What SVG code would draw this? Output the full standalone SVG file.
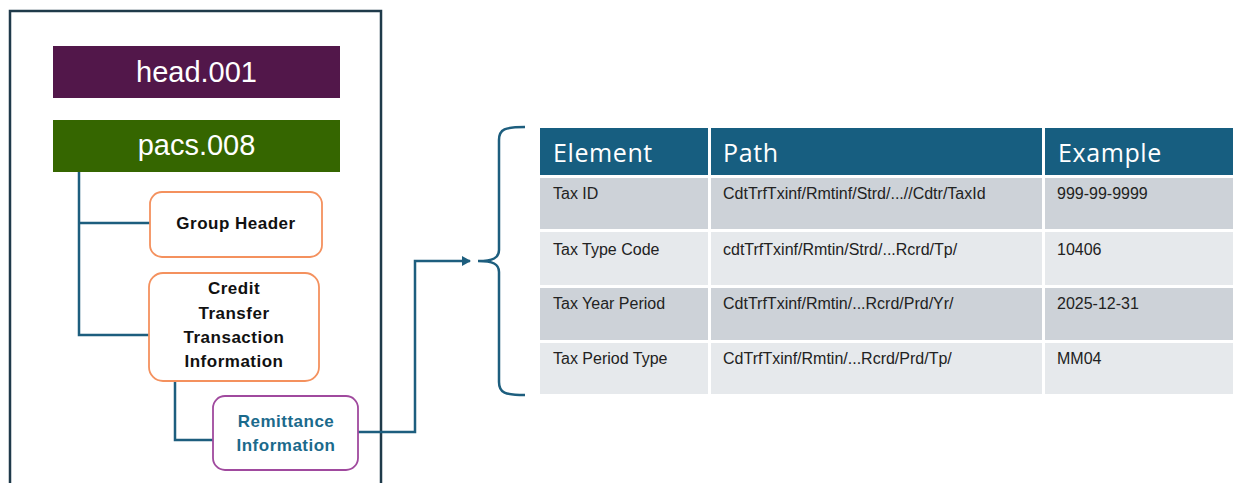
<svg xmlns="http://www.w3.org/2000/svg" width="1233" height="483" viewBox="0 0 1233 483">
<style>
.lbl{font-family:"Liberation Sans",Arial,sans-serif;font-weight:bold;font-size:17px;fill:#111;text-anchor:middle;letter-spacing:0.5px}
.big{font-family:"Liberation Sans",Arial,sans-serif;font-size:29px;fill:#fff;text-anchor:middle}
.hdr{font-family:"Open Sans","Liberation Sans",sans-serif;font-size:25px;fill:#fff;letter-spacing:0.6px}
.cell{font-family:"Liberation Sans",Arial,sans-serif;font-size:16px;fill:#222}
.conn{fill:none;stroke:#1D5E7E;stroke-width:2.5}
.orange{fill:#fff;stroke:#F4915E;stroke-width:1.8}
</style>
<defs>
<marker id="arr" markerWidth="10" markerHeight="10" refX="8" refY="5" orient="auto" markerUnits="userSpaceOnUse">
<path d="M0,0 L9,5 L0,10 Z" fill="#1D5E7E"/>
</marker>
</defs>
<rect width="1233" height="483" fill="#fff"/>
<g id="container">
<rect x="10" y="11" width="371" height="480" fill="none" stroke="#1F3A4A" stroke-width="2.5"/>
</g>
<g id="connectors">
<path class="conn" d="M79,172 V335 H149 M79,223 H150"/>
<path class="conn" d="M175,381 V440 H213"/>
<path class="conn" d="M358,432 H415 V261 H470" marker-end="url(#arr)"/>
<path class="conn" d="M525,127 C505,127 499,129 499,140 V250 C499,258 493,261 478,261 C493,261 499,264 499,272 V382 C499,393 505,395 525,395"/>
</g>
<g id="head001">
<rect x="53" y="46" width="287" height="52" fill="#52174A"/>
<text class="big" x="196.5" y="82">head.001</text>
</g>
<g id="pacs008">
<rect x="53" y="120" width="287" height="52" fill="#356600"/>
<text class="big" x="196.5" y="155">pacs.008</text>
</g>
<g id="groupHeader">
<rect class="orange" x="150" y="192" width="172" height="65" rx="12"/>
<text class="lbl" x="236" y="229">Group Header</text>
</g>
<g id="ctti">
<rect class="orange" x="149" y="273" width="170" height="108" rx="14"/>
<text class="lbl" x="234" y="294">Credit</text>
<text class="lbl" x="234" y="319">Transfer</text>
<text class="lbl" x="234" y="343">Transaction</text>
<text class="lbl" x="234" y="367">Information</text>
</g>
<g id="remittance">
<rect x="213" y="396" width="145" height="74" rx="12" fill="#fff" stroke="#A04A9E" stroke-width="1.8"/>
<text class="lbl" x="286" y="427" style="fill:#1B6A8C">Remittance</text>
<text class="lbl" x="286" y="451" style="fill:#1B6A8C">Information</text>
</g>
<g id="table">
<rect x="540" y="128" width="168" height="47" fill="#175E80"/>
<rect x="711" y="128" width="331" height="47" fill="#175E80"/>
<rect x="1045" y="128" width="188" height="47" fill="#175E80"/>
<text class="hdr" x="553" y="162">Element</text>
<text class="hdr" x="723" y="162">Path</text>
<text class="hdr" x="1058" y="162">Example</text>
<g fill="#CDD2D8">
<rect x="540" y="178" width="168" height="51"/><rect x="711" y="178" width="331" height="51"/><rect x="1045" y="178" width="188" height="51"/>
<rect x="540" y="288" width="168" height="52"/><rect x="711" y="288" width="331" height="52"/><rect x="1045" y="288" width="188" height="52"/>
</g>
<g fill="#E6E9EC">
<rect x="540" y="232" width="168" height="53"/><rect x="711" y="232" width="331" height="53"/><rect x="1045" y="232" width="188" height="53"/>
<rect x="540" y="343" width="168" height="51"/><rect x="711" y="343" width="331" height="51"/><rect x="1045" y="343" width="188" height="51"/>
</g>
<text class="cell" x="553" y="199">Tax ID</text>
<text class="cell" x="723" y="199">CdtTrfTxinf/Rmtinf/Strd/...//Cdtr/TaxId</text>
<text class="cell" x="1057" y="199">999-99-9999</text>
<text class="cell" x="553" y="255">Tax Type Code</text>
<text class="cell" x="723" y="255">cdtTrfTxinf/Rmtin/Strd/...Rcrd/Tp/</text>
<text class="cell" x="1057" y="255">10406</text>
<text class="cell" x="553" y="309">Tax Year Period</text>
<text class="cell" x="723" y="309">CdtTrfTxinf/Rmtin/...Rcrd/Prd/Yr/</text>
<text class="cell" x="1057" y="309">2025-12-31</text>
<text class="cell" x="553" y="364">Tax Period Type</text>
<text class="cell" x="723" y="364">CdTrfTxinf/Rmtin/...Rcrd/Prd/Tp/</text>
<text class="cell" x="1057" y="364">MM04</text>
</g>
</svg>
